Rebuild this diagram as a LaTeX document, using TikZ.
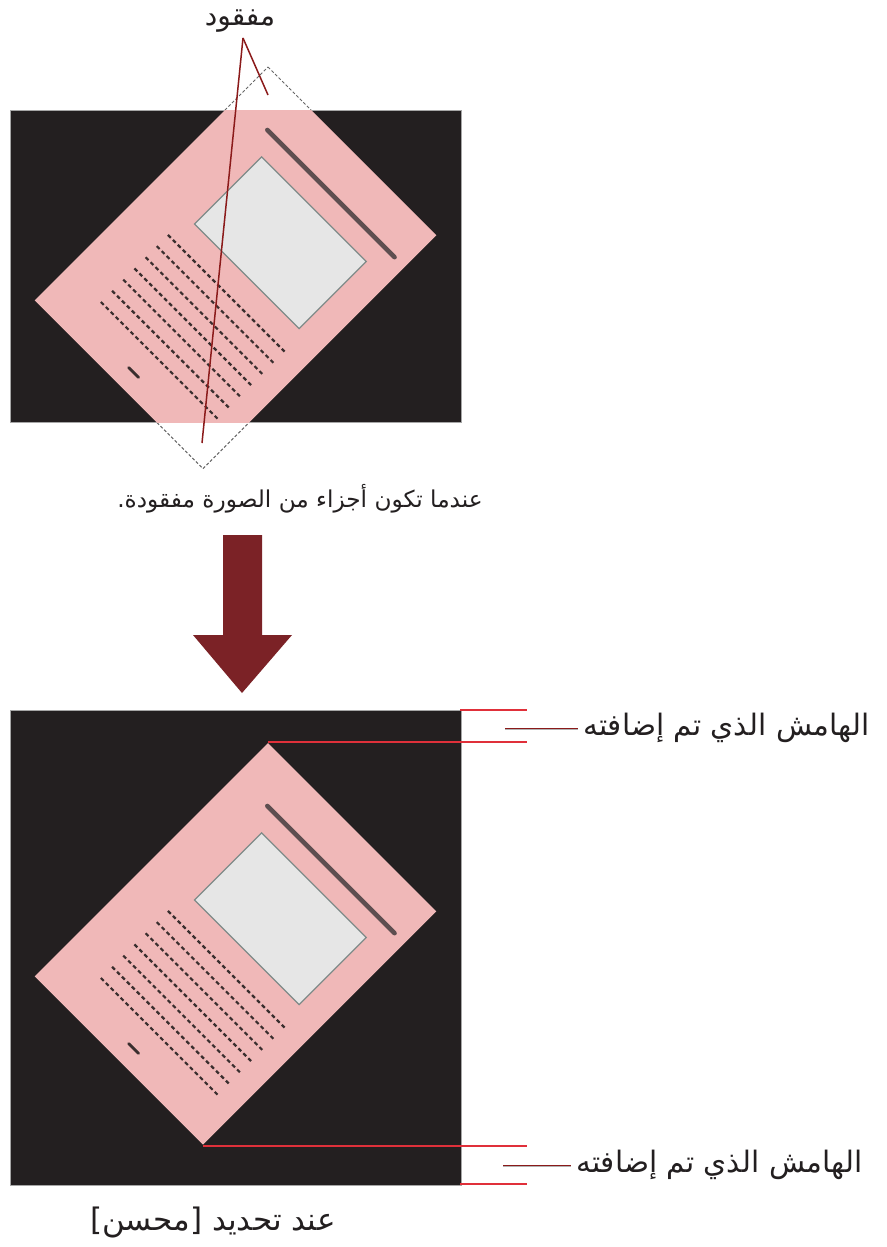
\documentclass[tikz,border=0pt]{standalone}
\usepackage{fontspec}
\newfontfamily\arabicfont[Script=Arabic]{DejaVu Sans}
\newfontfamily\latinfont{DejaVu Sans}
\TeXXeTstate=1
\definecolor{bgblack}{HTML}{231F20}
\definecolor{docpink}{HTML}{F0B8B8}
\definecolor{imgfill}{HTML}{E6E6E6}
\definecolor{imgline}{HTML}{7F8A88}
\definecolor{barcol}{HTML}{5E4E50}
\definecolor{dashcol}{HTML}{3A2E2E}
\definecolor{marginred}{HTML}{E0303A}
\definecolor{leaderred}{HTML}{8B1A1A}
\definecolor{arrowred}{HTML}{7B2226}
\definecolor{txtcol}{HTML}{231F20}
\tikzset{
  arlabel/.style={font=\arabicfont\fontsize{29.5}{33}\selectfont, text=txtcol, inner sep=0pt},
  blackbox/.style={fill=bgblack, draw=gray!70, line width=1},
  docoutline/.style={draw=gray!80!black, dash pattern=on 3 off 2, line width=1},
  imgbox/.style={fill=imgfill, draw=imgline, line width=1.2},
  titlebar/.style={draw=barcol, line width=4.5, line cap=round},
  textline/.style={draw=dashcol, line width=2.2, dash pattern=on 4 off 3},
  marginline/.style={draw=marginred, line width=1.6},
  leaderline/.style={draw=leaderred, line width=1.5},
  docframe/.style={x={(0.7071pt,-0.7071pt)}, y={(-0.7071pt,-0.7071pt)}},
}
\newcommand{\docbody}{%
  \fill[docpink] (0,0) -- (238,0) -- (238,330) -- (0,330) -- cycle;
  \draw[imgbox] (59,68) -- (207,68) -- (207,163) -- (59,163) -- cycle;
  \draw[titlebar] (44,45) -- (224,45);
  \foreach \k in {0,...,6}{
    \draw[textline] (48,189.5+15.8*\k) -- (214,189.5+15.8*\k);
  }
  \draw[draw=dashcol, line width=2.8, line cap=round] (114,311) -- (128,311);
}
\begin{document}
\begin{tikzpicture}[x=1pt,y=-1pt]
\useasboundingbox (0,0) rectangle (886,1247);
% ---------- top panel ----------
\begin{scope}[shift={(268,67)}, docframe]
  \draw[docoutline] (0,0) -- (238,0) -- (238,330) -- (0,330) -- cycle;
\end{scope}
\draw[blackbox] (10,110) rectangle (461,422);
\begin{scope}
  \clip (10,110) rectangle (461,422);
  \begin{scope}[shift={(268,67)}, docframe]
    \docbody
  \end{scope}
\end{scope}
\node[arlabel, font=\arabicfont\fontsize{28}{32}\selectfont] (missing) at (240,21) {مفقود};
\coordinate (lead0) at (243,38);
\coordinate (miss1) at (268,95);
\coordinate (miss2) at (202,443);
\draw[leaderline] (lead0) -- (miss1);
\draw[leaderline] (lead0) -- (miss2);
\node[arlabel, font=\arabicfont\fontsize{23.2}{27}\selectfont] (cap1) at (300,499) {{\latinfont .}\beginR عندما تكون أجزاء من الصورة مفقودة\endR};
% ---------- arrow ----------
\node[inner sep=0pt] (arr) at (242,614) {};
\fill[arrowred] (223,535) -- (262,535) -- (262,635) -- (292,635) -- (242,693) -- (193,635) -- (223,635) -- cycle;
% ---------- bottom panel ----------
\draw[blackbox] (10,710) rectangle (461,1185);
\begin{scope}[shift={(268,743)}, docframe]
  \docbody
\end{scope}
\coordinate (m1a) at (460,710); \coordinate (m1b) at (527,710);
\coordinate (m2a) at (268,742); \coordinate (m2b) at (527,742);
\coordinate (m3a) at (203,1146); \coordinate (m3b) at (527,1146);
\coordinate (m4a) at (460,1184); \coordinate (m4b) at (527,1184);
\draw[marginline] (m1a) -- (m1b);
\draw[marginline] (m2a) -- (m2b);
\draw[marginline] (m3a) -- (m3b);
\draw[marginline] (m4a) -- (m4b);
\node[arlabel, anchor=west] (lab1) at (583,728) {\beginR الهامش الذي تم إضافته\endR};
\node[arlabel, anchor=west] (lab2) at (576,1165) {\beginR الهامش الذي تم إضافته\endR};
\coordinate (l1) at (505,728);
\coordinate (l2) at (503,1165);
\draw[gray!60, line width=1.5] ([yshift=-1.3pt]l1) -- ([yshift=-1.3pt,xshift=-5pt]lab1.west);
\draw[leaderred, line width=1] (l1) -- ([xshift=-5pt]lab1.west);
\draw[gray!60, line width=1.5] ([yshift=-1.3pt]l2) -- ([yshift=-1.3pt,xshift=-5pt]lab2.west);
\draw[leaderred, line width=1] (l2) -- ([xshift=-5pt]lab2.west);
\node[arlabel, font=\arabicfont\fontsize{31}{35}\selectfont] (cap2) at (213,1222) {{\latinfont [}\beginR محسن\endR{\latinfont ]}\ \beginR عند تحديد\endR};
\end{tikzpicture}
\end{document}
